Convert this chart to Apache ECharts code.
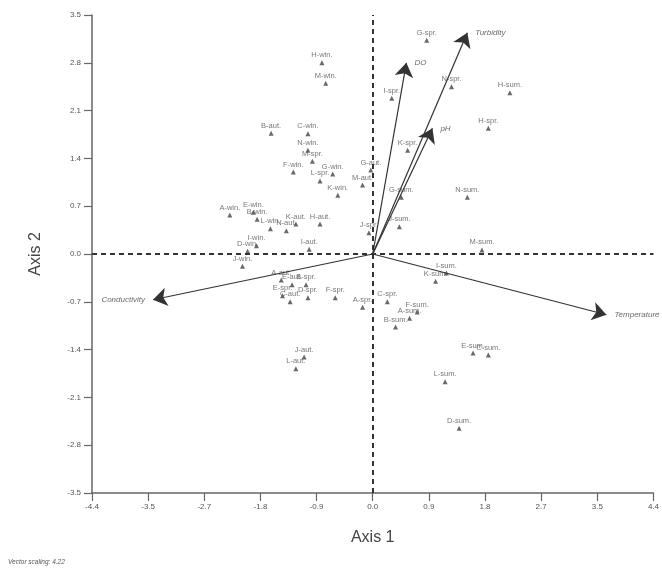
<!DOCTYPE html>
<html>
<head>
<meta charset="utf-8">
<script src="https://cdn.jsdelivr.net/npm/echarts@6/dist/echarts.min.js"></script>
<style>
html,body{margin:0;padding:0;background:#fff;}
#chart{width:662px;height:571px;}
</style>
</head>
<body>
<div id="chart"></div>
<script>
// Sample scores (Axis 1, Axis 2)
const siteNames = ['A-win.','B-win.','C-win.','D-win.','E-win.','F-win.','G-win.','H-win.','I-win.','J-win.','K-win.','L-win.','M-win.','N-win.',
  'A-spr.','B-spr.','C-spr.','D-spr.','E-spr.','F-spr.','G-spr.','H-spr.','I-spr.','J-spr.','K-spr.','L-spr.','M-spr.','N-spr.',
  'A-sum.','B-sum.','C-sum.','D-sum.','E-sum.','F-sum.','G-sum.','H-sum.','I-sum.','J-sum.','K-sum.','L-sum.','M-sum.','N-sum.',
  'A-aut.','B-aut.','C-aut.','E-aut.','G-aut.','H-aut.','I-aut.','J-aut.','K-aut.','L-aut.','M-aut.','N-aut.'];
const axis1Scores = [-2.25,-1.82,-1.02,-1.97,-1.88,-1.25,-0.63,-0.80,-1.83,-2.05,-0.55,-1.61,-0.74,-1.02,
  -0.16,-1.05,0.23,-1.02,-1.42,-0.59,0.85,1.82,0.30,-0.06,0.55,-0.83,-0.95,1.24,
  0.58,0.36,1.82,1.36,1.58,0.70,0.45,2.16,1.16,0.42,0.99,1.14,1.72,1.49,
  -1.44,-1.60,-1.30,-1.27,-0.03,-0.83,-1.00,-1.08,-1.21,-1.21,-0.16,-1.36];
const axis2Scores = [0.57,0.51,1.76,0.04,0.61,1.20,1.17,2.80,0.12,-0.18,0.86,0.37,2.50,1.52,
  -0.78,-0.45,-0.70,-0.64,-0.61,-0.64,3.13,1.84,2.28,0.31,1.52,1.07,1.36,2.45,
  -0.94,-1.07,-1.48,-2.55,-1.45,-0.85,0.83,2.36,-0.28,0.40,-0.40,-1.87,0.06,0.83,
  -0.38,1.77,-0.70,-0.45,1.23,0.44,0.07,-1.51,0.44,-1.68,1.01,0.34];

// Environmental vectors
const vectorNames = ['Turbidity','DO','pH','Temperature','Conductivity'];
const vectorX = [1.49,0.53,0.94,3.68,-3.46];
const vectorY = [3.24,2.80,1.84,-0.89,-0.67];

// Tick labels
const xTickLabels = ['-4.4','-3.5','-2.7','-1.8','-0.9','0.0','0.9','1.8','2.7','3.5','4.4'];
const yTickLabels = ['-3.5','-2.8','-2.1','-1.4','-0.7','0.0','0.7','1.4','2.1','2.8','3.5'];

const X_MIN = -4.42, X_INT = 0.884;
const Y_MIN = -3.5, Y_INT = 0.7;

const chart = echarts.init(document.getElementById('chart'), null, {renderer:'canvas'});
const font = 'Liberation Sans, Arial, sans-serif';

const pointData = siteNames.map((n,i)=>({value:[axis1Scores[i],axis2Scores[i]], name:n}));
const vecLines = vectorNames.map((n,i)=>({coords:[[0,0],[vectorX[i],vectorY[i]]]}));
const vecLabels = vectorNames.map((n,i)=>({
  value:[vectorX[i],vectorY[i]], name:n,
  label:{position: vectorX[i] < 0 ? 'left' : 'right'}
}));

const option = {
  backgroundColor:'#fff',
  animation:false,
  grid:{left:92, right:5, top:15, bottom:78},
  xAxis:{
    type:'value', min:X_MIN, max:-X_MIN, interval:X_INT,
    name:'Axis 1', nameLocation:'middle', nameGap:37,
    nameTextStyle:{fontSize:16, color:'#444', fontFamily:font},
    axisLine:{onZero:false, lineStyle:{color:'#666', width:1.5}},
    axisTick:{show:true, length:8, inside:false, lineStyle:{color:'#666', width:1.2}},
    axisLabel:{fontSize:8, color:'#555', fontFamily:font, margin:10,
      formatter:v=>xTickLabels[Math.round((v-X_MIN)/X_INT)] ?? ''},
    splitLine:{show:false}
  },
  yAxis:{
    type:'value', min:Y_MIN, max:-Y_MIN, interval:Y_INT,
    name:'Axis 2', nameLocation:'middle', nameGap:48,
    nameTextStyle:{fontSize:16, color:'#444', fontFamily:font},
    axisLine:{onZero:false, lineStyle:{color:'#666', width:1.5}},
    axisTick:{show:true, length:8, inside:false, lineStyle:{color:'#666', width:1.2}},
    axisLabel:{fontSize:8, color:'#555', fontFamily:font, margin:11,
      formatter:v=>yTickLabels[Math.round((v-Y_MIN)/Y_INT)] ?? ''},
    splitLine:{show:false}
  },
  series:[
    {
      type:'scatter', data:pointData, symbol:'triangle', symbolSize:5,
      itemStyle:{color:'#444'},
      label:{show:true, position:'top', distance:1, formatter:p=>p.name,
        fontSize:7.5, color:'#555', fontFamily:font},
      markLine:{
        silent:true, symbol:['none','none'], label:{show:false},
        lineStyle:{color:'#333', type:[5,4], width:2},
        data:[{xAxis:0},{yAxis:0}]
      },
      z:3
    },
    {
      type:'lines', coordinateSystem:'cartesian2d', data:vecLines,
      symbol:['none','arrow'], symbolSize:[8,14],
      lineStyle:{color:'#333', width:1.2, opacity:1},
      z:4
    },
    {
      type:'scatter', data:vecLabels, symbolSize:0,
      label:{show:true, formatter:p=>p.name, fontSize:8, fontStyle:'italic',
        color:'#444', fontFamily:font, distance:8},
      z:5
    }
  ],
  graphic:[{
    type:'text', left:8, top:559,
    style:{text:'Vector scaling: 4.22', fontSize:6.5, fontStyle:'italic', fill:'#555', fontFamily:font}
  }]
};
chart.setOption(option);
</script>
</body>
</html>
